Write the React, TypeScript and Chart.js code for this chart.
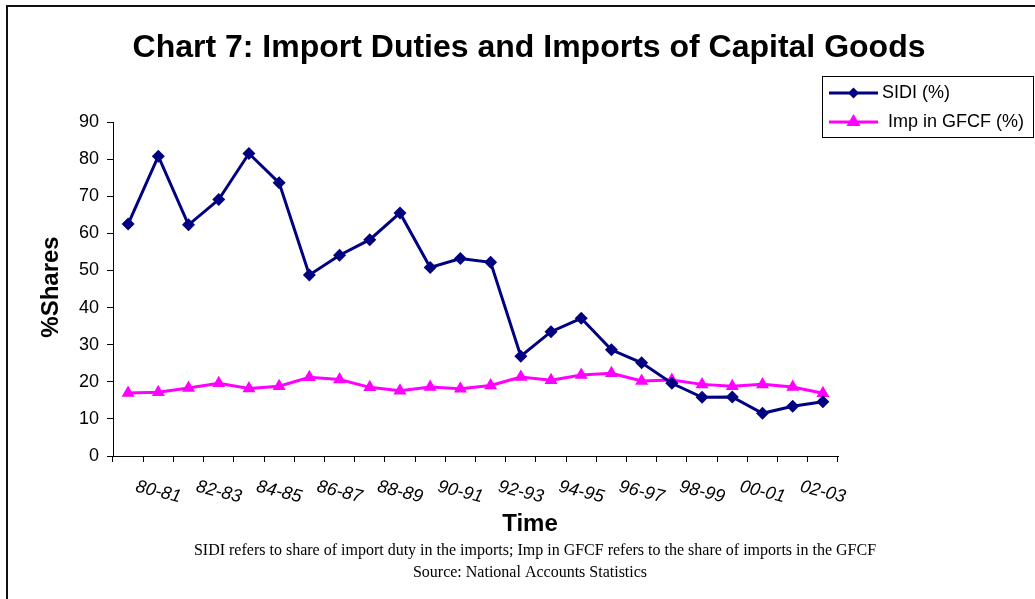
import React, { useEffect, useRef } from 'react';
import { Chart, registerables } from 'chart.js';

Chart.register(...registerables);

// Fiscal years on the category axis
const periods = [
  '79-80', '80-81', '81-82', '82-83', '83-84', '84-85', '85-86', '86-87',
  '87-88', '88-89', '89-90', '90-91', '91-92', '92-93', '93-94', '94-95',
  '95-96', '96-97', '97-98', '98-99', '99-00', '00-01', '01-02', '02-03',
];

// Share of import duty in imports (%)
const sidi = [
  62.5, 80.8, 62.3, 69.1, 81.5, 73.6, 48.8, 54.1, 58.3, 65.5, 50.8, 53.2,
  52.2, 26.9, 33.5, 37.1, 28.6, 25.1, 19.6, 15.8, 15.9, 11.5, 13.4, 14.6,
];

// Share of imports in GFCF (%)
const impGfcf = [
  17.0, 17.2, 18.3, 19.6, 18.2, 18.8, 21.2, 20.6, 18.5, 17.6, 18.6, 18.1,
  19.0, 21.3, 20.4, 21.8, 22.3, 20.2, 20.5, 19.3, 18.8, 19.3, 18.6, 16.9,
];

const seriesNames = ['SIDI (%)', 'Imp in GFCF (%)'];
const yTicks = [0, 10, 20, 30, 40, 50, 60, 70, 80, 90];

const titleText = 'Chart 7: Import Duties and Imports of Capital Goods';
const yTitle = '%Shares';
const xTitle = 'Time';
const notes = [
  'SIDI refers to share of import duty in the imports; Imp in GFCF refers to the share of imports in the GFCF',
  'Source: National Accounts Statistics',
];

const SANS = '"Liberation Sans", Arial, sans-serif';
const SERIF = '"Liberation Serif", "Times New Roman", serif';
const NAVY = '#000080';
const MAGENTA = '#FF00FF';

function diamond(ctx: CanvasRenderingContext2D, x: number, y: number, r: number, color: string) {
  ctx.beginPath();
  ctx.moveTo(x, y - r);
  ctx.lineTo(x + r, y);
  ctx.lineTo(x, y + r);
  ctx.lineTo(x - r, y);
  ctx.closePath();
  ctx.fillStyle = color;
  ctx.fill();
}

function triangle(ctx: CanvasRenderingContext2D, x: number, y: number, r: number, color: string) {
  ctx.beginPath();
  ctx.moveTo(x, y - r);
  ctx.lineTo(x + r, y + r * 0.7);
  ctx.lineTo(x - r, y + r * 0.7);
  ctx.closePath();
  ctx.fillStyle = color;
  ctx.fill();
}

const framePlugin = {
  id: 'frameAndText',
  beforeDraw(chart: any) {
    const ctx = chart.ctx as CanvasRenderingContext2D;
    ctx.save();
    ctx.fillStyle = '#ffffff';
    ctx.fillRect(0, 0, chart.width, chart.height);
    ctx.restore();
  },
  afterDraw(chart: any) {
    const ctx = chart.ctx as CanvasRenderingContext2D;
    const xs = chart.scales.x;
    ctx.save();

    // outer frame (top and left edges)
    ctx.fillStyle = '#111111';
    ctx.fillRect(6, 5, 1029, 2);
    ctx.fillRect(6, 5, 2, 594);

    // title
    ctx.fillStyle = '#000000';
    ctx.font = `bold 32px ${SANS}`;
    ctx.textAlign = 'center';
    ctx.textBaseline = 'alphabetic';
    ctx.fillText(titleText, 529, 57);

    // rotated y title
    ctx.save();
    ctx.translate(51, 287);
    ctx.rotate(-Math.PI / 2);
    ctx.font = `bold 24px ${SANS}`;
    ctx.textBaseline = 'middle';
    ctx.fillText(yTitle, 0, 0);
    ctx.restore();

    // category labels, every other year, tilted
    ctx.font = `italic 18px ${SANS}`;
    ctx.textBaseline = 'middle';
    periods.forEach((p, i) => {
      if (i % 2 !== 1) return;
      const x = xs.getPixelForValue(i);
      ctx.save();
      ctx.translate(x, 492);
      ctx.rotate((14 * Math.PI) / 180);
      ctx.fillText(p, 0, 0);
      ctx.restore();
    });

    // x title
    ctx.font = `bold 24px ${SANS}`;
    ctx.textBaseline = 'alphabetic';
    ctx.fillText(xTitle, 530, 531);

    // notes below the chart
    ctx.font = `16px ${SERIF}`;
    ctx.fillText(notes[0], 535, 555);
    ctx.fillText(notes[1], 530, 577);

    // legend
    ctx.strokeStyle = '#000000';
    ctx.lineWidth = 1;
    ctx.strokeRect(822.5, 76.5, 211, 61);
    const rows = [
      { y: 93, color: NAVY, name: seriesNames[0], tx: 882, mark: 'd' },
      { y: 122, color: MAGENTA, name: seriesNames[1], tx: 888, mark: 't' },
    ];
    rows.forEach((r) => {
      ctx.strokeStyle = r.color;
      ctx.lineWidth = 3;
      ctx.beginPath();
      ctx.moveTo(829, r.y);
      ctx.lineTo(878, r.y);
      ctx.stroke();
      if (r.mark === 'd') diamond(ctx, 853.5, r.y, 5.5, r.color);
      else triangle(ctx, 853.5, r.y - 1, 7, r.color);
      ctx.fillStyle = '#000000';
      ctx.font = `18px ${SANS}`;
      ctx.textAlign = 'left';
      ctx.textBaseline = 'middle';
      ctx.fillText(r.name, r.tx, r.y);
    });

    ctx.restore();
  },
};

export default function App() {
  const ref = useRef<HTMLCanvasElement | null>(null);

  useEffect(() => {
    if (!ref.current) return;
    const chart = new Chart(ref.current, {
      type: 'line',
      data: {
        labels: periods,
        datasets: [
          {
            label: seriesNames[0],
            data: sidi,
            borderColor: NAVY,
            backgroundColor: NAVY,
            borderWidth: 3,
            pointStyle: 'rectRot',
            pointRadius: 6.5,
            pointBorderWidth: 0,
            tension: 0,
          },
          {
            label: seriesNames[1],
            data: impGfcf,
            borderColor: MAGENTA,
            backgroundColor: MAGENTA,
            borderWidth: 3,
            pointStyle: 'triangle',
            pointRadius: 7.5,
            pointBorderWidth: 0,
            tension: 0,
          },
        ],
      },
      options: {
        responsive: false,
        animation: false,
        layout: { padding: { left: 0, top: 122, right: 197, bottom: 143 } },
        plugins: {
          legend: { display: false },
          title: { display: false },
          tooltip: { enabled: false },
        },
        scales: {
          x: {
            type: 'category',
            offset: true,
            grid: {
              offset: true,
              drawOnChartArea: false,
              drawTicks: true,
              tickLength: 6,
              color: '#000000',
            },
            border: { display: true, color: '#000000', width: 1 },
            ticks: { display: false },
            afterFit: (s: any) => {
              s.height = 0;
            },
          },
          y: {
            min: 0,
            max: 90,
            afterBuildTicks: (s: any) => {
              s.ticks = yTicks.map((v) => ({ value: v }));
            },
            grid: {
              drawOnChartArea: false,
              drawTicks: true,
              tickLength: 6,
              color: '#000000',
            },
            border: { display: true, color: '#000000', width: 1 },
            ticks: {
              color: '#000000',
              padding: 8,
              font: { family: SANS, size: 18 },
            },
            afterFit: (s: any) => {
              s.width = 113;
            },
          },
        },
      },
      plugins: [framePlugin],
    });
    return () => chart.destroy();
  }, []);

  return (
    <div style={{ position: 'fixed', left: 0, top: 0, width: 1035, height: 599, background: '#fff' }}>
      <canvas ref={ref} width={1035} height={599} style={{ width: 1035, height: 599 }} />
    </div>
  );
}
